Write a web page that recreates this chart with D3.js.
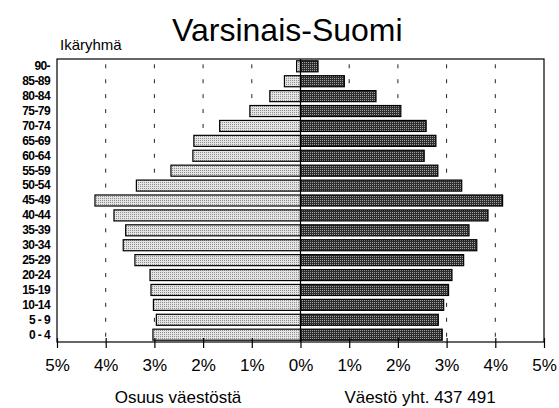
<!DOCTYPE html>
<html>
<head>
<meta charset="utf-8">
<script src="https://cdn.jsdelivr.net/npm/d3@7"></script>
<style>
  body { margin: 0; background: #fff; }
  svg text { font-family: "Liberation Sans", Arial, Helvetica, sans-serif; fill: #000; }
</style>
</head>
<body>
<svg id="chart" width="559" height="408"></svg>
<script>
// age groups, top to bottom
var ageGroups = ['90-', '85-89', '80-84', '75-79', '70-74', '65-69', '60-64', '55-59', '50-54',
  '45-49', '40-44', '35-39', '30-34', '25-29', '20-24', '15-19', '10-14', '5 - 9', '0 - 4'];

// share of population (%), left side
var leftShare = [0.08, 0.33, 0.63, 1.04, 1.66, 2.19, 2.21, 2.66, 3.37,
  4.22, 3.83, 3.59, 3.64, 3.40, 3.09, 3.07, 3.02, 2.96, 3.03];

// share of population (%), right side
var rightShare = [0.36, 0.90, 1.55, 2.06, 2.58, 2.78, 2.54, 2.82, 3.31,
  4.15, 3.85, 3.46, 3.62, 3.35, 3.11, 3.04, 2.94, 2.83, 2.91];

var tickValues = [-5, -4, -3, -2, -1, 0, 1, 2, 3, 4, 5];
var gridValues = [-4, -3, -2, -1, 1, 2, 3, 4];

var title = 'Varsinais-Suomi';
var yTitle = 'Ikäryhmä';
var captionLeft = 'Osuus väestöstä';
var captionRight = 'Väestö yht. 437 491';

var svg = d3.select('#chart');

var plot = { left: 57, right: 544, top: 59, bottom: 342 };

var x = d3.scaleLinear()
  .domain([-5, 5])
  .range([plot.left, plot.right]);

var y = d3.scaleBand()
  .domain(ageGroups)
  .range([plot.top, plot.bottom])
  .paddingInner(0.26)
  .paddingOuter(0.12);

// stipple patterns (small regular dots, like the printed raster)
var defs = svg.append('defs');
var lightPat = defs.append('pattern')
  .attr('id', 'light')
  .attr('width', 2).attr('height', 2)
  .attr('patternUnits', 'userSpaceOnUse');
lightPat.append('rect').attr('width', 2).attr('height', 2).attr('fill', '#e4e4e4');
lightPat.append('rect').attr('x', 0).attr('y', 0).attr('width', 1).attr('height', 1).attr('fill', '#8e8e8e');

var darkPat = defs.append('pattern')
  .attr('id', 'dark')
  .attr('width', 2).attr('height', 2)
  .attr('patternUnits', 'userSpaceOnUse');
darkPat.append('rect').attr('width', 2).attr('height', 2).attr('fill', '#2e2e2e');
darkPat.append('rect').attr('x', 0).attr('y', 0).attr('width', 1).attr('height', 1).attr('fill', '#a0a0a0');

// dashed grid: a short dash at each row centre
var gridData = [];
ageGroups.forEach(function(g) {
  gridValues.forEach(function(v) { gridData.push({ g: g, v: v }); });
});
svg.append('g')
  .attr('class', 'grid')
  .selectAll('line')
  .data(gridData)
  .enter()
  .append('line')
  .attr('x1', function(d) { return x(d.v); })
  .attr('x2', function(d) { return x(d.v); })
  .attr('y1', function(d) { return y(d.g) + y.bandwidth() / 2 - 2; })
  .attr('y2', function(d) { return y(d.g) + y.bandwidth() / 2 + 2; })
  .attr('stroke', '#222')
  .attr('stroke-width', 1);

// bars
svg.append('g')
  .attr('class', 'bars-left')
  .selectAll('rect')
  .data(leftShare)
  .enter()
  .append('rect')
  .attr('x', function(d) { return x(-d); })
  .attr('y', function(d, i) { return y(ageGroups[i]); })
  .attr('width', function(d) { return x(0) - x(-d); })
  .attr('height', y.bandwidth())
  .attr('fill', 'url(#light)')
  .attr('stroke', '#000')
  .attr('stroke-width', 1.2);

svg.append('g')
  .attr('class', 'bars-right')
  .selectAll('rect')
  .data(rightShare)
  .enter()
  .append('rect')
  .attr('x', x(0))
  .attr('y', function(d, i) { return y(ageGroups[i]); })
  .attr('width', function(d) { return x(d) - x(0); })
  .attr('height', y.bandwidth())
  .attr('fill', 'url(#dark)')
  .attr('stroke', '#000')
  .attr('stroke-width', 1.2);

// frame and centre line
svg.append('rect')
  .attr('x', plot.left)
  .attr('y', plot.top)
  .attr('width', plot.right - plot.left)
  .attr('height', plot.bottom - plot.top)
  .attr('fill', 'none')
  .attr('stroke', '#000')
  .attr('stroke-width', 1.2);

svg.append('line')
  .attr('x1', x(0)).attr('x2', x(0))
  .attr('y1', plot.top).attr('y2', plot.bottom)
  .attr('stroke', '#000')
  .attr('stroke-width', 1.2);

// x axis
var xAxis = d3.axisBottom(x)
  .tickValues(tickValues)
  .tickSize(6)
  .tickPadding(11)
  .tickFormat(function(d) { return Math.abs(d) + '%'; });

var gx = svg.append('g')
  .attr('transform', 'translate(0,' + plot.bottom + ')')
  .call(xAxis);
gx.select('.domain').remove();
gx.selectAll('.tick line')
  .attr('y1', -4)
  .attr('stroke-width', 1.2);
gx.selectAll('.tick text')
  .style('font-size', '17px')
  .style('font-family', '"Liberation Sans", Arial, sans-serif')
  .attr('fill', '#000');

// y axis labels
var yAxis = d3.axisLeft(y)
  .tickSize(0)
  .tickPadding(7);
var gy = svg.append('g')
  .attr('transform', 'translate(' + plot.left + ',0)')
  .call(yAxis);
gy.select('.domain').remove();
gy.selectAll('.tick text')
  .style('font-size', '12px')
  .style('font-weight', 'bold')
  .style('font-family', '"Liberation Sans Narrow", "Liberation Sans", Arial, sans-serif')
  .attr('letter-spacing', '-0.6')
  .attr('fill', '#000');

// titles
svg.append('text')
  .attr('x', 172)
  .attr('y', 41)
  .style('font-size', '32px')
  .text(title);

svg.append('text')
  .attr('x', 60)
  .attr('y', 50)
  .style('font-size', '15px')
  .text(yTitle);

svg.append('text')
  .attr('x', 178)
  .attr('y', 403)
  .attr('text-anchor', 'middle')
  .style('font-size', '17px')
  .text(captionLeft);

svg.append('text')
  .attr('x', 420)
  .attr('y', 403)
  .attr('text-anchor', 'middle')
  .style('font-size', '17px')
  .text(captionRight);
</script>
</body>
</html>
